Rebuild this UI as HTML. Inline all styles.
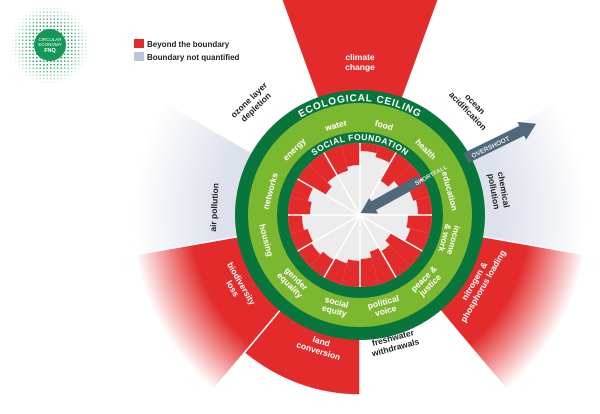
<!DOCTYPE html>
<html><head><meta charset="utf-8"><style>
html,body{margin:0;padding:0;background:#fff;}
svg{display:block;font-family:"Liberation Sans",sans-serif;}
</style></head><body>
<svg id="s" width="600" height="414" viewBox="0 0 600 414" xmlns="http://www.w3.org/2000/svg">
<defs>
<radialGradient id="rg" gradientUnits="userSpaceOnUse" cx="360" cy="215" r="235">
<stop offset="0.72" stop-color="#e32b2b"/><stop offset="0.97" stop-color="#e32b2b" stop-opacity="0"/></radialGradient>
<radialGradient id="gg" gradientUnits="userSpaceOnUse" cx="360" cy="215" r="235">
<stop offset="0.6" stop-color="#dde1eb"/><stop offset="0.97" stop-color="#dde1eb" stop-opacity="0"/></radialGradient>
<pattern id="dots" width="3.5" height="3.5" patternUnits="userSpaceOnUse"><circle cx="1.75" cy="1.75" r="0.9" fill="#19a05a"/></pattern>
<radialGradient id="fade" cx="0.5" cy="0.5" r="0.5"><stop offset="0.5" stop-color="#fff" stop-opacity="1"/><stop offset="1" stop-color="#fff" stop-opacity="0"/></radialGradient>
<mask id="m"><circle cx="50" cy="45" r="40" fill="url(#fade)"/></mask>
<path id="ceil" d="M 246 215 A 114 114 0 0 1 474 215"/>
<path id="soc" d="M 285 215 A 75 75 0 0 1 435 215"/>
</defs>
<g id="outer"></g>
<circle cx="360" cy="215" r="125" fill="#08763c"/>
<circle cx="360" cy="215" r="112" fill="#7cb82f"/>
<circle cx="360" cy="215" r="83" fill="#08763c"/>
<circle cx="360" cy="215" r="72" fill="#ececec"/>
<g id="inner"></g>
<circle cx="50" cy="45" r="40" fill="url(#dots)" mask="url(#m)"/>
<circle cx="50" cy="45" r="16" fill="#13985a"/>
<text x="50" y="41" font-size="4.5" fill="#fff" text-anchor="middle">CIRCULAR</text>
<text x="50" y="46" font-size="4.5" fill="#fff" text-anchor="middle">ECONOMY</text>
<text x="50" y="52" font-size="5.5" font-weight="bold" fill="#fff" text-anchor="middle">FNQ</text>
<rect x="134" y="39" width="10" height="9" fill="#e32b2b"/>
<text x="147" y="47" font-size="8" font-weight="bold" fill="#222">Beyond the boundary</text>
<rect x="134" y="52" width="10" height="9" fill="#bcc5dc"/>
<text x="147" y="60" font-size="8" font-weight="bold" fill="#222">Boundary not quantified</text>
<text font-size="10" font-weight="bold" fill="#fff" letter-spacing="0.8"><textPath href="#ceil" startOffset="50%" text-anchor="middle">ECOLOGICAL CEILING</textPath></text>
<text font-size="8.5" font-weight="bold" fill="#fff" letter-spacing="0.5"><textPath href="#soc" startOffset="50%" text-anchor="middle">SOCIAL FOUNDATION</textPath></text>
<g font-size="8.5" font-weight="bold" fill="#fff" text-anchor="middle">
<text x="360" y="125" transform="rotate(15 360 215)">food</text>
<text x="360" y="125" transform="rotate(45 360 215)">health</text>
<text x="360" y="125" transform="rotate(75 360 215)">education</text>
<text x="360" y="121" transform="rotate(105 360 215)"><tspan x="360">income</tspan><tspan x="360" dy="9">&amp; work</tspan></text>
<text x="360" y="308" transform="rotate(-45 360 215)"><tspan x="360">peace &amp;</tspan><tspan x="360" dy="9">justice</tspan></text>
<text x="360" y="308" transform="rotate(-15 360 215)"><tspan x="360">political</tspan><tspan x="360" dy="9">voice</tspan></text>
<text x="360" y="308" transform="rotate(15 360 215)"><tspan x="360">social</tspan><tspan x="360" dy="9">equity</tspan></text>
<text x="360" y="308" transform="rotate(45 360 215)"><tspan x="360">gender</tspan><tspan x="360" dy="9">equality</tspan></text>
<text x="360" y="315" transform="rotate(75 360 215)">housing</text>
<text x="360" y="125" transform="rotate(-75 360 215)">networks</text>
<text x="360" y="125" transform="rotate(-45 360 215)">energy</text>
<text x="360" y="125" transform="rotate(-15 360 215)">water</text>
</g>
<g font-size="8.5" font-weight="bold" text-anchor="middle">
<text x="360" y="60" fill="#fff"><tspan x="360">climate</tspan><tspan x="360" dy="10">change</tspan></text>
<text x="360" y="58" fill="#222" transform="rotate(46 360 215)"><tspan x="360">ocean</tspan><tspan x="360" dy="10">acidification</tspan></text>
<text x="360" y="72" fill="#222" transform="rotate(80 360 215)"><tspan x="360">chemical</tspan><tspan x="360" dy="10">pollution</tspan></text>
<text x="360" y="350" fill="#fff" transform="rotate(-60 360 215)"><tspan x="360">nitrogen &amp;</tspan><tspan x="360" dy="10">phosphorus loading</tspan></text>
<text x="360" y="345" fill="#222" transform="rotate(-15 360 215)"><tspan x="360">freshwater</tspan><tspan x="360" dy="10">withdrawals</tspan></text>
<text x="360" y="350" fill="#fff" transform="rotate(17 360 215)"><tspan x="360">land</tspan><tspan x="360" dy="10">conversion</tspan></text>
<text x="360" y="355" fill="#fff" transform="rotate(60 360 215)"><tspan x="360">biodiversity</tspan><tspan x="360" dy="10">loss</tspan></text>
<text x="360" y="72" fill="#222" transform="rotate(-87 360 215)">air pollution</text>
<text x="360" y="58" fill="#222" transform="rotate(-44 360 215)"><tspan x="360">ozone layer</tspan><tspan x="360" dy="10">depletion</tspan></text>
</g>
<g transform="translate(466 158) rotate(-26)">
<rect x="0" y="-5.5" width="64" height="11" fill="#50697a"/>
<polygon points="62,-10 78,0 62,10" fill="#50697a"/>
<text x="6" y="3" font-size="6.5" fill="#dfe6ea" font-weight="bold">OVERSHOOT</text>
</g>
<g transform="translate(420 180) rotate(151)">
<rect x="0" y="-5" width="55" height="10" fill="#50697a"/>
<polygon points="53,-9 68,0 53,9" fill="#50697a"/>
<text x="48" y="3" font-size="6" fill="#dfe6ea" font-weight="bold" transform="rotate(180 27 0)">SHORTFALL</text>
</g>
</svg>
<script>
var cx=360,cy=215,NS="http://www.w3.org/2000/svg";
function pt(a,r){a=(a-90)*Math.PI/180;return [cx+r*Math.cos(a),cy+r*Math.sin(a)];}
function wedge(a1,a2,r0,r1){var p1=pt(a1,r1),p2=pt(a2,r1),p3=pt(a2,r0),p4=pt(a1,r0);
return "M"+p1+" A"+r1+" "+r1+" 0 0 1 "+p2+" L"+p3+" A"+r0+" "+r0+" 0 0 0 "+p4+"Z";}
function add(g,d,f,st){var p=document.createElementNS(NS,"path");p.setAttribute("d",d);p.setAttribute("fill",f);
if(st){p.setAttribute("stroke","#fff");p.setAttribute("stroke-width",st);}document.getElementById(g).appendChild(p);}
var o=[[-20,20,270,"#e32b2b"],[20,60,135,"#fff"],[60,100,235,"url(#gg)"],[100,140,235,"url(#rg)"],[140,180,135,"#fff"],
[180,220,180,"#e32b2b"],[220,260,235,"url(#rg)"],[260,300,235,"url(#gg)"],[300,340,135,"#fff"]];
o.forEach(function(w){add("outer",wedge(w[0],w[1],120,w[2]),w[3],1.5);});
var s=[[64,60],[40,48],[55,58],[48,52],[36,42],[38,44],[46,50],[52,56],[54,58],[50,54],[40,46],[46,50]];
for(var i=0;i<12;i++){add("inner",wedge(i*30,i*30+15,s[i][0],72),"#e32b2b");add("inner",wedge(i*30+15,i*30+30,s[i][1],72),"#e32b2b");}
for(var i=0;i<12;i++){var p=pt(i*30,72);var l=document.createElementNS(NS,"line");
l.setAttribute("x1",cx);l.setAttribute("y1",cy);l.setAttribute("x2",p[0]);l.setAttribute("y2",p[1]);
l.setAttribute("stroke","#fff");l.setAttribute("stroke-width","1.5");document.getElementById("inner").appendChild(l);}
</script>
</body></html>
